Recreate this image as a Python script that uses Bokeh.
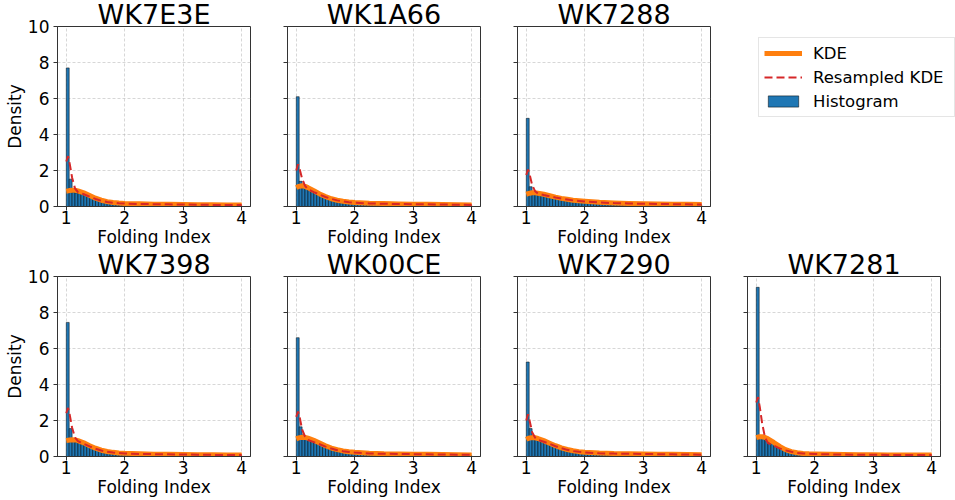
import numpy as np
from bokeh.plotting import figure
from bokeh.layouts import column, row
from bokeh.models import Legend, LegendItem, FixedTicker, Range1d
from bokeh.embed import file_html
from bokeh.resources import INLINE

FONT = "DejaVu Sans"
HIST_COLOR = "#1f77b4"
KDE_COLOR = "#ff7f0e"
RKDE_COLOR = "#d62728"

# histogram bins: 60 bins of width 0.05 over [1, 4]
bin_edges = np.linspace(1.0, 4.0, 61)

# x positions at which the KDE curves are evaluated
kde_x = [1.0, 1.03, 1.06, 1.1, 1.15, 1.2, 1.3, 1.4, 1.5, 1.6, 1.7, 1.8, 1.9, 2.0,
         2.25, 2.5, 2.75, 3.0, 3.25, 3.5, 3.75, 4.0]

samples = ["WK7E3E", "WK1A66", "WK7288", "WK7398", "WK00CE", "WK7290", "WK7281"]

hist_WK7E3E = [7.70, 1.52, 0.80, 0.76, 0.72, 0.68, 0.63, 0.57, 0.51, 0.46,
               0.41, 0.36, 0.31, 0.27, 0.24, 0.21, 0.19, 0.17, 0.15, 0.14,
               0.13, 0.13, 0.12, 0.12, 0.11, 0.11, 0.11, 0.10, 0.10, 0.10,
               0.10, 0.09, 0.09, 0.09, 0.09, 0.09, 0.08, 0.08, 0.08, 0.08,
               0.08, 0.08, 0.07, 0.07, 0.07, 0.07, 0.07, 0.07, 0.07, 0.06,
               0.06, 0.06, 0.06, 0.06, 0.06, 0.06, 0.06, 0.05, 0.05, 0.05]
hist_WK1A66 = [6.10, 1.40, 1.05, 1.00, 0.95, 0.88, 0.80, 0.72, 0.64, 0.57,
               0.50, 0.44, 0.39, 0.35, 0.31, 0.28, 0.25, 0.23, 0.21, 0.19,
               0.18, 0.17, 0.16, 0.15, 0.15, 0.14, 0.14, 0.13, 0.13, 0.12,
               0.12, 0.12, 0.11, 0.11, 0.11, 0.10, 0.10, 0.10, 0.10, 0.09,
               0.09, 0.09, 0.09, 0.09, 0.08, 0.08, 0.08, 0.08, 0.08, 0.08,
               0.07, 0.07, 0.07, 0.07, 0.07, 0.07, 0.07, 0.06, 0.06, 0.06]
hist_WK7288 = [4.90, 1.10, 0.68, 0.66, 0.64, 0.62, 0.60, 0.57, 0.54, 0.51,
               0.48, 0.45, 0.42, 0.39, 0.36, 0.34, 0.32, 0.30, 0.28, 0.26,
               0.25, 0.24, 0.23, 0.22, 0.21, 0.20, 0.19, 0.19, 0.18, 0.17,
               0.17, 0.16, 0.16, 0.15, 0.15, 0.14, 0.14, 0.13, 0.13, 0.13,
               0.12, 0.12, 0.12, 0.11, 0.11, 0.11, 0.11, 0.10, 0.10, 0.10,
               0.10, 0.10, 0.09, 0.09, 0.09, 0.09, 0.09, 0.09, 0.08, 0.08]
hist_WK7398 = [7.45, 1.55, 1.00, 0.80, 0.74, 0.68, 0.62, 0.56, 0.50, 0.45,
               0.40, 0.35, 0.31, 0.27, 0.24, 0.21, 0.19, 0.17, 0.15, 0.14,
               0.13, 0.13, 0.12, 0.12, 0.11, 0.11, 0.10, 0.10, 0.10, 0.10,
               0.09, 0.09, 0.09, 0.09, 0.09, 0.08, 0.08, 0.08, 0.08, 0.08,
               0.07, 0.07, 0.07, 0.07, 0.07, 0.07, 0.07, 0.06, 0.06, 0.06,
               0.06, 0.06, 0.06, 0.06, 0.05, 0.05, 0.05, 0.05, 0.05, 0.05]
hist_WK00CE = [6.60, 1.65, 1.20, 1.05, 1.00, 0.94, 0.86, 0.78, 0.70, 0.62,
               0.55, 0.48, 0.42, 0.37, 0.32, 0.28, 0.25, 0.22, 0.19, 0.17,
               0.16, 0.15, 0.15, 0.14, 0.14, 0.13, 0.13, 0.12, 0.12, 0.11,
               0.11, 0.11, 0.10, 0.10, 0.10, 0.09, 0.09, 0.09, 0.09, 0.08,
               0.08, 0.08, 0.08, 0.08, 0.07, 0.07, 0.07, 0.07, 0.07, 0.07,
               0.06, 0.06, 0.06, 0.06, 0.06, 0.06, 0.05, 0.05, 0.05, 0.05]
hist_WK7290 = [5.25, 1.55, 1.15, 1.05, 1.00, 0.95, 0.88, 0.80, 0.72, 0.64,
               0.57, 0.50, 0.44, 0.39, 0.35, 0.31, 0.28, 0.25, 0.23, 0.21,
               0.20, 0.19, 0.18, 0.17, 0.16, 0.16, 0.15, 0.15, 0.14, 0.14,
               0.13, 0.13, 0.12, 0.12, 0.12, 0.11, 0.11, 0.11, 0.10, 0.10,
               0.10, 0.10, 0.09, 0.09, 0.09, 0.09, 0.08, 0.08, 0.08, 0.08,
               0.08, 0.07, 0.07, 0.07, 0.07, 0.07, 0.07, 0.06, 0.06, 0.06]
hist_WK7281 = [9.40, 1.15, 1.05, 0.95, 0.85, 0.72, 0.60, 0.50, 0.45, 0.40,
               0.35, 0.30, 0.26, 0.23, 0.20, 0.18, 0.16, 0.14, 0.13, 0.12,
               0.11, 0.11, 0.10, 0.10, 0.10, 0.09, 0.09, 0.09, 0.09, 0.08,
               0.08, 0.08, 0.08, 0.08, 0.07, 0.07, 0.07, 0.07, 0.07, 0.07,
               0.06, 0.06, 0.06, 0.06, 0.06, 0.06, 0.06, 0.06, 0.05, 0.05,
               0.05, 0.05, 0.05, 0.05, 0.05, 0.05, 0.05, 0.05, 0.04, 0.04]

kde_WK7E3E = [0.85, 0.87, 0.89, 0.90, 0.90, 0.87, 0.76, 0.61, 0.46, 0.35, 0.27,
              0.22, 0.19, 0.17, 0.15, 0.13, 0.12, 0.11, 0.10, 0.10, 0.09, 0.08]
kde_WK1A66 = [1.05, 1.10, 1.13, 1.15, 1.12, 1.05, 0.88, 0.70, 0.55, 0.43, 0.35,
              0.29, 0.25, 0.22, 0.18, 0.16, 0.14, 0.13, 0.12, 0.11, 0.10, 0.09]
kde_WK7288 = [0.68, 0.71, 0.74, 0.76, 0.76, 0.74, 0.68, 0.60, 0.52, 0.45, 0.40,
              0.35, 0.32, 0.29, 0.23, 0.20, 0.17, 0.15, 0.14, 0.13, 0.12, 0.11]
kde_WK7398 = [0.88, 0.90, 0.92, 0.93, 0.92, 0.88, 0.76, 0.60, 0.46, 0.35, 0.28,
              0.23, 0.20, 0.18, 0.15, 0.13, 0.12, 0.11, 0.10, 0.10, 0.09, 0.08]
kde_WK00CE = [0.98, 1.02, 1.05, 1.07, 1.06, 1.02, 0.90, 0.75, 0.60, 0.47, 0.38,
              0.31, 0.26, 0.23, 0.18, 0.15, 0.14, 0.13, 0.12, 0.11, 0.10, 0.09]
kde_WK7290 = [0.95, 1.00, 1.03, 1.05, 1.04, 1.00, 0.88, 0.74, 0.60, 0.48, 0.39,
              0.32, 0.27, 0.24, 0.19, 0.16, 0.15, 0.14, 0.13, 0.12, 0.11, 0.10]
kde_WK7281 = [1.05, 1.08, 1.10, 1.10, 1.06, 0.98, 0.78, 0.56, 0.38, 0.27, 0.21,
              0.17, 0.15, 0.14, 0.12, 0.11, 0.10, 0.10, 0.09, 0.09, 0.08, 0.08]

rkde_WK7E3E = [2.50, 2.80, 2.35, 1.60, 1.00, 0.80, 0.68, 0.55, 0.42, 0.32, 0.25,
               0.21, 0.18, 0.16, 0.14, 0.13, 0.12, 0.11, 0.10, 0.09, 0.09, 0.08]
rkde_WK1A66 = [2.00, 2.35, 2.05, 1.55, 1.15, 0.95, 0.80, 0.66, 0.53, 0.42, 0.34,
               0.28, 0.24, 0.21, 0.17, 0.15, 0.14, 0.13, 0.12, 0.11, 0.10, 0.09]
rkde_WK7288 = [1.75, 2.05, 1.75, 1.20, 0.85, 0.72, 0.64, 0.57, 0.50, 0.44, 0.39,
               0.34, 0.31, 0.28, 0.22, 0.19, 0.17, 0.15, 0.14, 0.13, 0.12, 0.11]
rkde_WK7398 = [2.40, 2.70, 2.30, 1.60, 1.05, 0.85, 0.70, 0.56, 0.43, 0.33, 0.26,
               0.22, 0.19, 0.17, 0.14, 0.13, 0.12, 0.11, 0.10, 0.09, 0.09, 0.08]
rkde_WK00CE = [2.20, 2.50, 2.15, 1.50, 1.10, 0.92, 0.80, 0.68, 0.55, 0.44, 0.35,
               0.29, 0.25, 0.22, 0.17, 0.15, 0.14, 0.13, 0.12, 0.11, 0.10, 0.09]
rkde_WK7290 = [2.00, 2.35, 1.95, 1.35, 1.05, 0.92, 0.82, 0.70, 0.57, 0.46, 0.37,
               0.30, 0.26, 0.23, 0.18, 0.16, 0.15, 0.14, 0.13, 0.12, 0.11, 0.10]
rkde_WK7281 = [3.00, 3.30, 2.75, 1.85, 1.05, 0.75, 0.60, 0.45, 0.34, 0.26, 0.20,
               0.17, 0.15, 0.14, 0.12, 0.11, 0.10, 0.10, 0.09, 0.09, 0.08, 0.08]

hists = [hist_WK7E3E, hist_WK1A66, hist_WK7288, hist_WK7398, hist_WK00CE, hist_WK7290, hist_WK7281]
kdes = [kde_WK7E3E, kde_WK1A66, kde_WK7288, kde_WK7398, kde_WK00CE, kde_WK7290, kde_WK7281]
rkdes = [rkde_WK7E3E, rkde_WK1A66, rkde_WK7288, rkde_WK7398, rkde_WK00CE, rkde_WK7290, rkde_WK7281]

x_ticks = [1, 2, 3, 4]
y_ticks = [0, 2, 4, 6, 8, 10]

FRAME_W = 193
PANEL_H = 250
BOTTOM = 44


def make_panel(name, hist, kde, rkde, first_col, border_left, border_right):
    p = figure(width=border_left + FRAME_W + border_right, height=PANEL_H,
               x_range=Range1d(0.85, 4.15), y_range=Range1d(0, 10),
               output_backend="svg", toolbar_location=None,
               min_border_left=border_left, min_border_right=border_right,
               min_border_top=0, min_border_bottom=BOTTOM)
    p.title.text = name
    p.title.align = "center"
    p.title.text_font = FONT
    p.title.text_font_size = "27px"
    p.title.text_font_style = "normal"
    p.title.text_color = "black"
    p.title.standoff = -7
    p.title.offset = 0

    p.outline_line_color = "#333333"
    p.outline_line_width = 1

    p.quad(left=bin_edges[:-1], right=bin_edges[1:], bottom=0, top=hist,
           fill_color=HIST_COLOR, line_color="black", line_width=0.5)
    p.line(kde_x, kde, line_color=KDE_COLOR, line_width=5, line_join="round")
    p.line(kde_x, rkde, line_color=RKDE_COLOR, line_width=2, line_dash="8 4")

    p.xaxis.ticker = FixedTicker(ticks=x_ticks)
    p.yaxis.ticker = FixedTicker(ticks=y_ticks)
    for ax in (p.xaxis, p.yaxis):
        ax.axis_line_color = "#333333"
        ax.major_tick_line_color = "#333333"
        ax.major_tick_out = 4
        ax.major_tick_in = 0
        ax.minor_tick_line_color = None
        ax.major_label_text_font = FONT
        ax.major_label_text_font_size = "17px"
        ax.major_label_text_color = "black"
        ax.axis_label_text_font = FONT
        ax.axis_label_text_font_size = "17px"
        ax.axis_label_text_font_style = "normal"
        ax.axis_label_text_color = "black"
    p.xaxis.axis_label = "Folding Index"
    p.xaxis.major_label_standoff = 0
    p.xaxis.axis_label_standoff = 0
    if first_col:
        p.yaxis.axis_label = "Density"
        p.yaxis.major_label_standoff = 4
        p.yaxis.axis_label_standoff = 0
    else:
        p.yaxis.major_label_overrides = {t: "" for t in y_ticks}
        p.yaxis.major_label_standoff = 0

    p.grid.grid_line_color = "#b0b0b0"
    p.grid.grid_line_alpha = 0.5
    p.grid.grid_line_dash = "3 2"
    p.xgrid.ticker = FixedTicker(ticks=x_ticks)
    p.ygrid.ticker = FixedTicker(ticks=y_ticks)
    return p


def make_legend_box():
    # its frame lines up with the neighbouring panels; legend sits just inside the corner
    p = figure(width=227, height=PANEL_H, x_range=Range1d(0, 1), y_range=Range1d(0, 1),
               x_axis_type=None, y_axis_type=None, output_backend="svg", toolbar_location=None,
               min_border_left=17, min_border_top=0, min_border_right=0, min_border_bottom=0)
    p.outline_line_color = None
    p.grid.visible = False
    # legend proxies placed outside the visible range
    r_kde = p.line(x=[-5, -4], y=[-5, -4], line_color=KDE_COLOR, line_width=5)
    r_rkde = p.line(x=[-5, -4], y=[-5, -4], line_color=RKDE_COLOR, line_width=2, line_dash="8 4")
    r_hist = p.quad(left=[-5], right=[-4], bottom=[-5], top=[-4], fill_color=HIST_COLOR,
                    line_color="black", line_width=0.5)
    legend = Legend(items=[LegendItem(label="KDE", renderers=[r_kde]),
                           LegendItem(label="Resampled KDE", renderers=[r_rkde]),
                           LegendItem(label="Histogram", renderers=[r_hist])],
                    location="top_left")
    legend.label_text_font = FONT
    legend.label_text_font_size = "16.5px"
    legend.label_text_color = "black"
    legend.glyph_width = 38
    legend.glyph_height = 14
    legend.label_standoff = 11
    legend.label_height = 20
    legend.label_width = 136
    legend.spacing = 4
    legend.padding = 5
    legend.margin = 11
    legend.border_line_color = "#cccccc"
    legend.border_line_width = 1
    p.add_layout(legend, "center")
    return p


borders = [(57, 20), (17, 20), (17, 20), (17, 17)]
panels = []
for i, name in enumerate(samples):
    col = i if i < 3 else i - 3
    bl, br = borders[col]
    panels.append(make_panel(name, hists[i], kdes[i], rkdes[i], col == 0, bl, br))

layout = column(row(panels[0], panels[1], panels[2], make_legend_box()),
                row(panels[3], panels[4], panels[5], panels[6]))

open("out.html", "w").write(file_html(layout, INLINE))
